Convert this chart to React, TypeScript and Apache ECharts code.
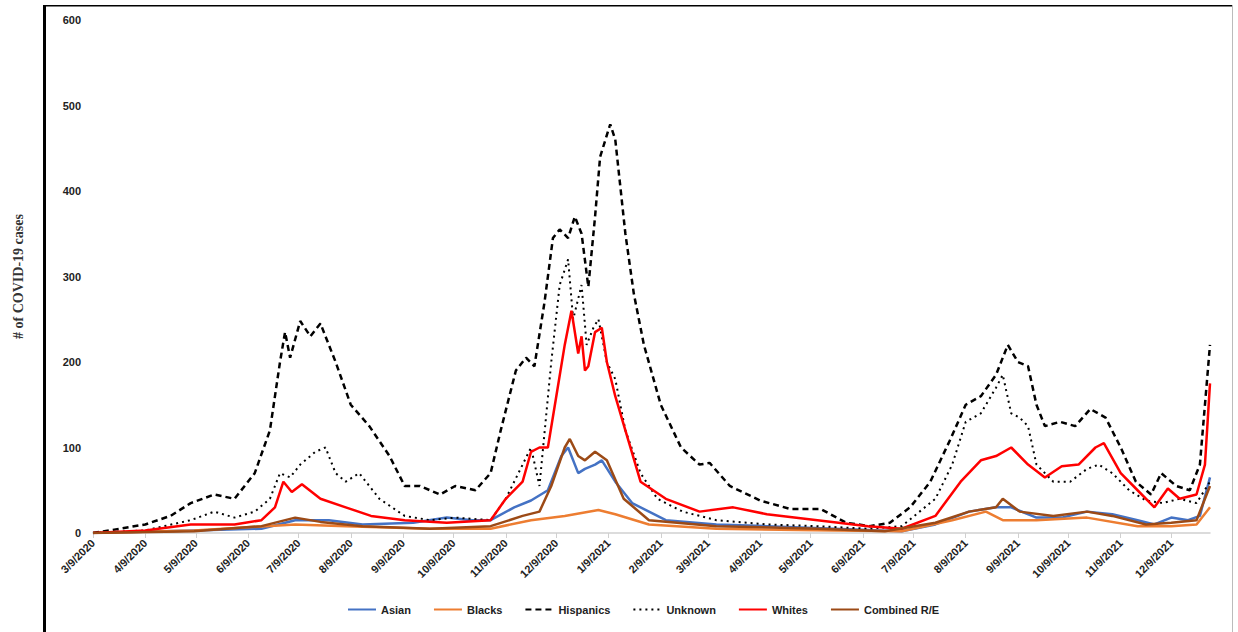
import React, { useEffect, useRef } from "react";
import * as echarts from "echarts";

// day offsets from 3/9/2020 paired with case counts
const asian: [number, number][] = [
  [0, 0], [60, 3], [100, 5], [120, 15], [140, 15], [160, 10], [190, 12], [210, 18], [225, 15], [236, 15],
  [250, 30], [260, 38], [270, 50], [278, 90], [282, 100], [288, 70], [292, 75], [298, 80], [302, 85],
  [310, 60], [320, 35], [340, 15], [370, 10], [400, 8], [440, 5], [480, 2], [500, 10], [520, 25], [536, 30],
  [545, 30], [560, 18], [575, 18], [590, 25], [605, 22], [620, 15], [630, 10], [640, 18], [650, 15], [657, 20], [663, 65],
];
const blacks: [number, number][] = [
  [0, 0], [60, 3], [120, 10], [150, 8], [200, 5], [236, 5], [260, 15], [280, 20], [300, 27], [310, 22],
  [330, 10], [370, 5], [440, 3], [480, 2], [510, 15], [530, 25], [540, 15], [560, 15], [590, 18], [620, 8],
  [640, 8], [655, 10], [663, 30],
];
const hispanics: [number, number][] = [
  [0, 0], [16, 5], [31, 10], [46, 20], [58, 35], [72, 45], [84, 40], [96, 70], [105, 120], [111, 200],
  [114, 235], [117, 205], [123, 248], [129, 230], [135, 245], [144, 200], [153, 150], [164, 125], [176, 90],
  [185, 55], [194, 55], [206, 45], [215, 55], [227, 50], [236, 70], [242, 120], [251, 190], [257, 205],
  [262, 195], [268, 270], [273, 345], [277, 355], [282, 345], [286, 370], [290, 350], [294, 288], [298, 370],
  [301, 440], [307, 478], [310, 460], [316, 350], [321, 280], [327, 220], [337, 150], [349, 100], [360, 80],
  [366, 82], [378, 55], [396, 38], [414, 28], [432, 28], [447, 12], [461, 8], [473, 12], [485, 30], [497, 60],
  [509, 110], [518, 150], [527, 160], [536, 185], [543, 220], [549, 200], [555, 195], [560, 150], [565, 125],
  [574, 130], [583, 125], [592, 145], [601, 135], [610, 100], [619, 60], [628, 45], [634, 70], [643, 55],
  [651, 50], [657, 80], [663, 220],
];
const unknown: [number, number][] = [
  [0, 0], [31, 3], [58, 15], [72, 25], [84, 18], [96, 25], [105, 40], [111, 70], [117, 65], [123, 80],
  [132, 95], [138, 100], [144, 70], [150, 60], [158, 70], [170, 40], [185, 20], [200, 15], [215, 18],
  [236, 15], [245, 40], [255, 80], [260, 100], [265, 55], [272, 200], [277, 290], [282, 320], [285, 250],
  [290, 290], [293, 220], [297, 240], [300, 250], [305, 200], [310, 180], [316, 120], [325, 70], [335, 40],
  [350, 25], [370, 15], [400, 10], [430, 8], [460, 5], [480, 8], [500, 40], [510, 80], [518, 130], [527, 140],
  [536, 170], [540, 185], [545, 140], [550, 135], [555, 125], [560, 80], [570, 60], [580, 60], [590, 75],
  [597, 80], [605, 70], [615, 50], [625, 38], [635, 35], [645, 40], [655, 35], [663, 60],
];
const whites: [number, number][] = [
  [0, 0], [31, 3], [58, 10], [84, 10], [100, 15], [108, 30], [113, 60], [118, 48], [124, 57], [135, 40],
  [150, 30], [165, 20], [185, 15], [210, 12], [236, 15], [245, 40], [255, 60], [260, 95], [265, 100],
  [270, 100], [275, 160], [280, 220], [284, 260], [288, 210], [290, 230], [292, 190], [294, 195], [298, 235],
  [302, 240], [305, 200], [310, 160], [316, 120], [325, 60], [340, 40], [360, 25], [380, 30], [400, 22],
  [430, 15], [460, 8], [480, 5], [500, 20], [515, 60], [527, 85], [536, 90], [545, 100], [555, 80], [565, 65],
  [575, 78], [585, 80], [595, 100], [600, 105], [610, 70], [620, 50], [630, 30], [638, 52], [645, 40],
  [655, 45], [660, 80], [663, 175],
];
const combined: [number, number][] = [
  [0, 0], [60, 2], [100, 8], [120, 18], [135, 13], [160, 8], [200, 5], [236, 8], [255, 20], [265, 25],
  [272, 55], [280, 100], [283, 110], [288, 90], [292, 85], [298, 95], [305, 85], [315, 40], [330, 15],
  [370, 8], [430, 5], [470, 2], [500, 12], [520, 25], [536, 30], [540, 40], [550, 25], [570, 20], [590, 25],
  [605, 20], [625, 10], [640, 12], [655, 15], [663, 55],
];

const startDate = new Date(2020, 2, 9);
const dayCount = 664;
const days: string[] = [];
for (let i = 0; i < dayCount; i++) {
  const d = new Date(startDate.getFullYear(), startDate.getMonth(), startDate.getDate() + i);
  days.push(`${d.getMonth() + 1}/${d.getDate()}/${d.getFullYear()}`);
}
const isNinth = (_: number, v: string) => v.split("/")[1] === "9";

const App: React.FC = () => {
  const chartRef = useRef<HTMLDivElement>(null);

  useEffect(() => {
    document.body.style.margin = "0";
    if (!chartRef.current) return;
    const chart = echarts.init(chartRef.current, undefined, { renderer: "svg" });

    const line = (name: string, data: [number, number][], color: string, type: any, width = 2.5) => ({
      name,
      type: "line",
      data,
      symbol: "none",
      lineStyle: { color, width, type },
      itemStyle: { color },
    });

    const option: echarts.EChartsOption = {
      animation: false,
      backgroundColor: "#fff",
      textStyle: { fontFamily: "Liberation Sans Narrow, Liberation Sans, Arial" },
      grid: { left: 93, right: 28, top: 20, bottom: 99 },
      legend: {
        bottom: 12,
        left: 342,
        itemWidth: 28,
        itemHeight: 10,
        itemGap: 22,
        itemStyle: { opacity: 0 },
        textStyle: { fontSize: 11, fontWeight: "bold", color: "#222" },
      },
      graphic: [
        { type: "rect", shape: { x: 43, y: 5, width: 3, height: 627 }, style: { fill: "#000" } },
        { type: "rect", shape: { x: 43, y: 5, width: 1190, height: 1.5 }, style: { fill: "#000" } },
        { type: "rect", shape: { x: 1232, y: 5, width: 1, height: 627 }, style: { fill: "#bbb" } },
      ],
      xAxis: {
        type: "category",
        data: days,
        boundaryGap: false,
        axisLine: { lineStyle: { color: "#d0d0d0", width: 1.5 } },
        axisTick: { interval: isNinth, lineStyle: { color: "#d0d0d0" }, length: 5 },
        axisLabel: {
          interval: isNinth,
          rotate: 45,
          fontSize: 11,
          fontWeight: "bold",
          color: "#222",
          margin: 8,
        },
      },
      yAxis: {
        type: "value",
        min: 0,
        max: 600,
        interval: 100,
        name: "# of COVID-19 cases",
        nameLocation: "middle",
        nameGap: 68,
        nameTextStyle: { fontFamily: "Liberation Serif", fontWeight: "bold", fontSize: 14, color: "#333" },
        splitLine: { show: false },
        axisLine: { show: false },
        axisLabel: { fontSize: 11, fontWeight: "bold", color: "#222", margin: 12 },
      },
      series: [
        line("Asian", asian, "#4472c4", "solid"),
        line("Blacks", blacks, "#ed7d31", "solid"),
        line("Hispanics", hispanics, "#000000", [6, 4], 2.5),
        line("Unknown", unknown, "#000000", [2, 4], 2),
        line("Whites", whites, "#ff0000", "solid"),
        line("Combined R/E", combined, "#9c4a16", "solid"),
      ] as any,
    };
    chart.setOption(option);
    return () => chart.dispose();
  }, []);

  return <div ref={chartRef} style={{ width: 1238, height: 632 }} />;
};

export default App;
